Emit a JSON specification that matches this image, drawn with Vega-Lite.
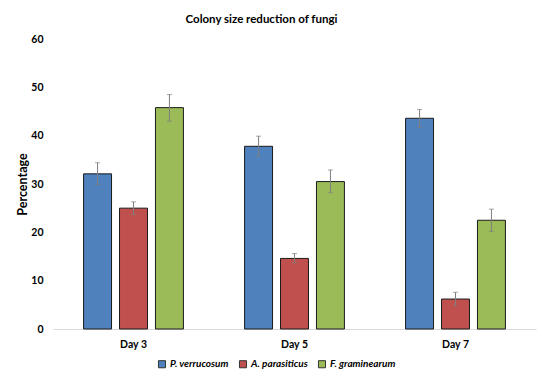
{
  "$schema": "https://vega.github.io/schema/vega-lite/v6.json",
  "width": 483,
  "height": 290,
  "autosize": {"type": "pad"},
  "padding": {"left": 16, "top": 13, "right": 5, "bottom": 5},
  "title": {"text": "Colony size reduction of fungi", "font": "Lato", "fontSize": 11.5, "fontWeight": "bold", "color": "#000000", "offset": 9, "dx": -33},
  "data": {"values": [
    {"day": "Day 3", "species": "P. verrucosum", "value": 32.1, "lo": 29.9, "hi": 34.4},
    {"day": "Day 3", "species": "A. parasiticus", "value": 25.0, "lo": 23.7, "hi": 26.3},
    {"day": "Day 3", "species": "F. graminearum", "value": 45.8, "lo": 43.0, "hi": 48.5},
    {"day": "Day 5", "species": "P. verrucosum", "value": 37.8, "lo": 35.8, "hi": 39.9},
    {"day": "Day 5", "species": "A. parasiticus", "value": 14.6, "lo": 13.7, "hi": 15.6},
    {"day": "Day 5", "species": "F. graminearum", "value": 30.5, "lo": 28.2, "hi": 32.9},
    {"day": "Day 7", "species": "P. verrucosum", "value": 43.6, "lo": 41.7, "hi": 45.4},
    {"day": "Day 7", "species": "A. parasiticus", "value": 6.2, "lo": 4.8, "hi": 7.6},
    {"day": "Day 7", "species": "F. graminearum", "value": 22.5, "lo": 20.2, "hi": 24.8}
  ]},
  "encoding": {
    "x": {"field": "day", "type": "nominal", "title": null,
      "scale": {"paddingInner": 0.38, "paddingOuter": 0.19},
      "axis": {"labelAngle": 0, "ticks": false, "domainColor": "#d9d9d9", "domainWidth": 1, "labelFont": "Lato", "labelFontSize": 10.5, "labelFontWeight": "bold", "labelColor": "#000000", "labelPadding": 10}},
    "xOffset": {"field": "species", "type": "nominal", "sort": ["P. verrucosum", "A. parasiticus", "F. graminearum"], "scale": {"paddingInner": 0.222, "paddingOuter": 0}}
  },
  "layer": [
    {
      "mark": {"type": "bar", "stroke": "#1a1a1a", "strokeWidth": 1},
      "encoding": {
        "y": {"field": "value", "type": "quantitative", "title": "Percentage",
          "scale": {"domain": [0, 60]},
          "axis": {"values": [0, 10, 20, 30, 40, 50, 60], "grid": false, "domain": false, "ticks": false, "labelFont": "Lato", "labelFontSize": 10.5, "labelFontWeight": "bold", "labelColor": "#000000", "labelPadding": 10, "titleFont": "Lato", "titleFontSize": 12.5, "titleFontWeight": "bold", "titleColor": "#000000", "titlePadding": 1}},
        "color": {"field": "species", "type": "nominal", "sort": ["P. verrucosum", "A. parasiticus", "F. graminearum"],
          "scale": {"domain": ["P. verrucosum", "A. parasiticus", "F. graminearum"], "range": ["#4F81BD", "#C0504D", "#9BBB59"]},
          "legend": {"title": null, "orient": "none", "legendX": 104, "legendY": 320, "direction": "horizontal", "symbolType": "square", "symbolSize": 50, "symbolStrokeColor": "#333333", "symbolStrokeWidth": 1, "labelFont": "Lato", "labelFontSize": 10, "labelFontStyle": "italic", "labelFontWeight": "bold", "labelColor": "#000000", "labelOffset": 3, "columnPadding": 8}}
      }
    },
    {
      "mark": {"type": "rule", "color": "#7f7f7f", "strokeWidth": 1},
      "encoding": {
        "y": {"field": "lo", "type": "quantitative"},
        "y2": {"field": "hi"}
      }
    },
    {
      "mark": {"type": "tick", "color": "#7f7f7f", "size": 5, "thickness": 1, "orient": "horizontal"},
      "encoding": {"y": {"field": "lo", "type": "quantitative"}}
    },
    {
      "mark": {"type": "tick", "color": "#7f7f7f", "size": 5, "thickness": 1, "orient": "horizontal"},
      "encoding": {"y": {"field": "hi", "type": "quantitative"}}
    }
  ],
  "config": {"view": {"stroke": null}}
}
